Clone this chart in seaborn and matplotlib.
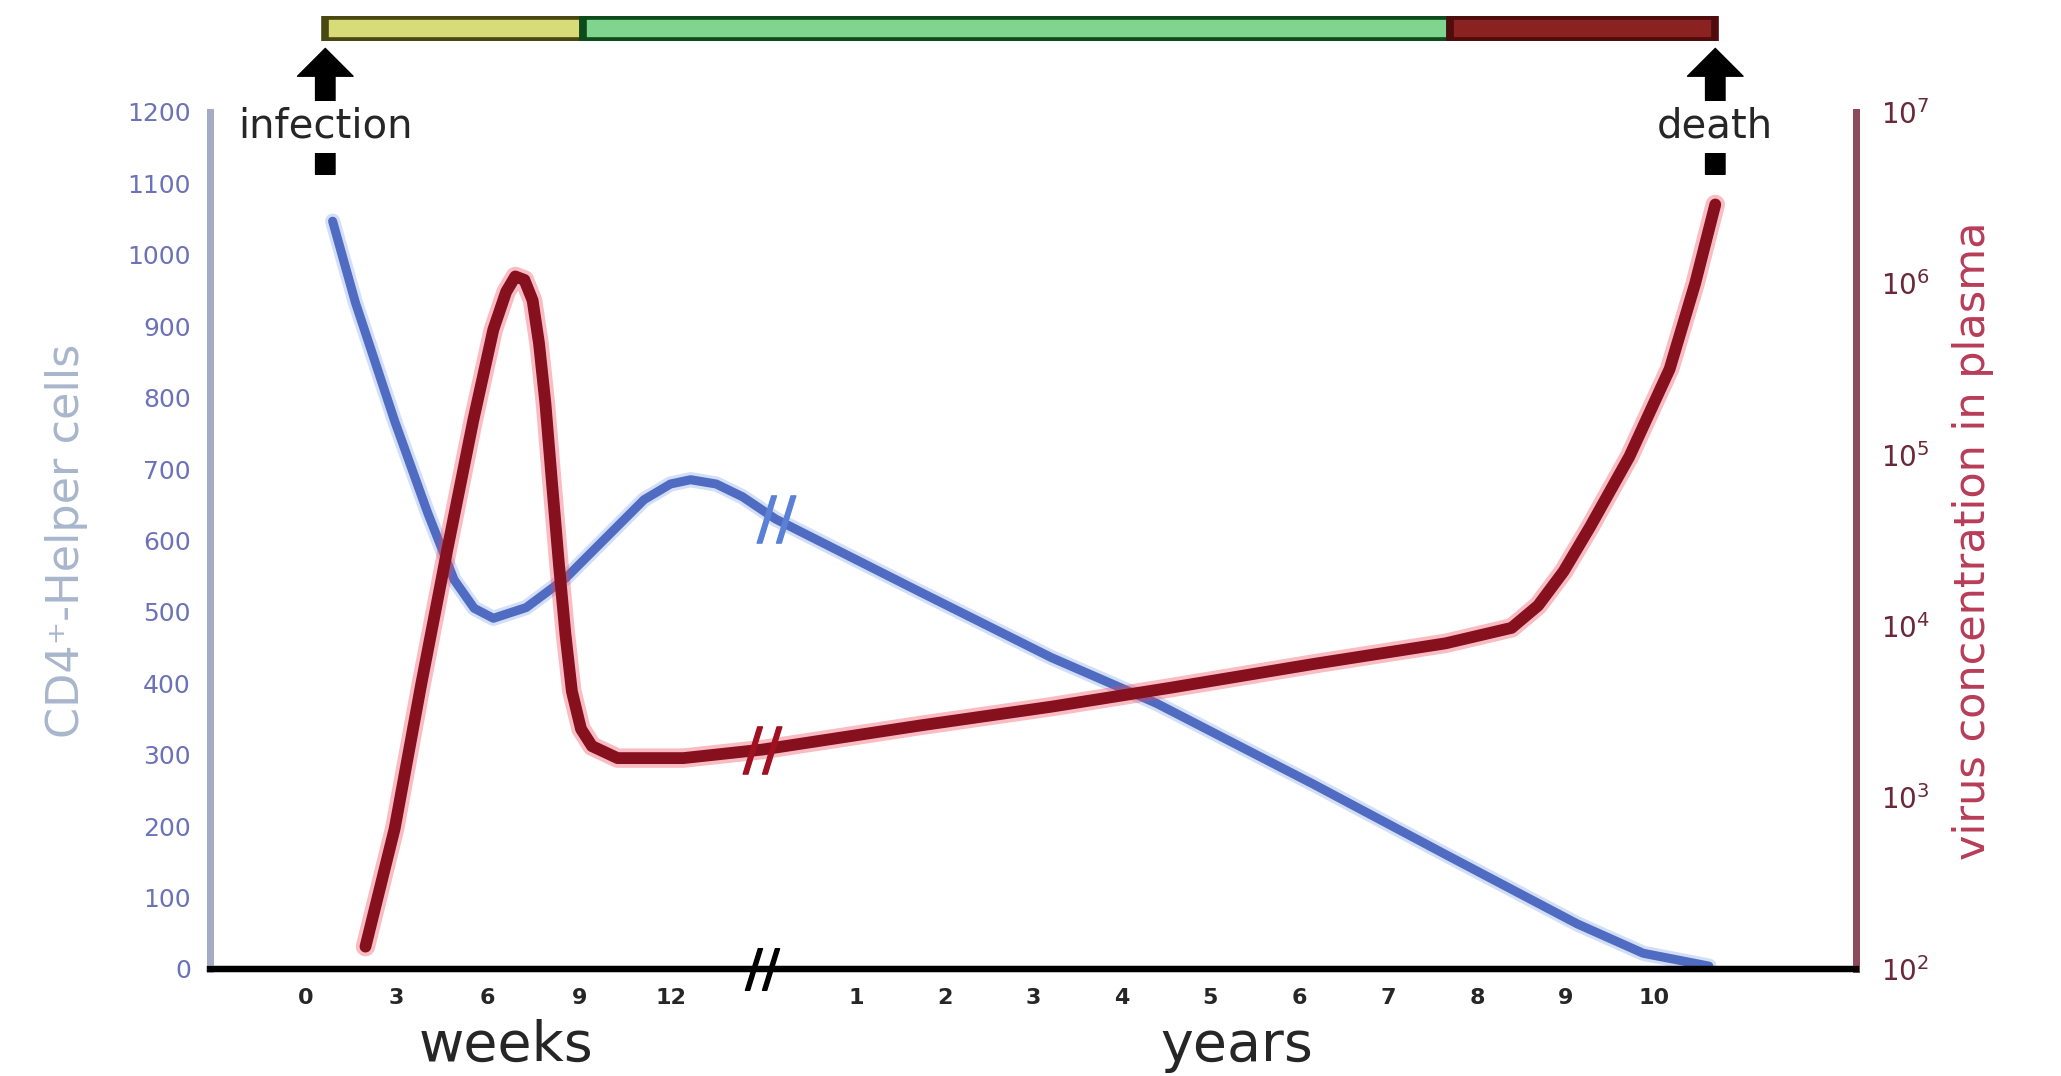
import numpy as np
import pandas as pd
import matplotlib.pyplot as plt
import matplotlib.transforms as mtransforms
import seaborn as sns

# Achsen-Positionen (Wochen links, Bruch, Jahre rechts)
week_labels = ['0', '3', '6', '9', '12']
week_pos = [0, 1, 2, 3, 4]
year_labels = ['1', '2', '3', '4', '5', '6', '7', '8', '9', '10']
year_pos = [6.03, 7.0, 7.97, 8.94, 9.91, 10.89, 11.86, 12.83, 13.8, 14.77]
break_pos = 5.0

# CD4-Helferzellen (linke Achse)
cd4_x = [0.30, 0.55, 0.98, 1.34, 1.63, 1.85, 2.06, 2.42, 2.85, 3.28, 3.71, 4.00, 4.22,
         4.50, 4.79, 5.15, 6.73, 8.17, 9.32, 11.05, 12.49, 13.93, 14.65, 15.37]
cd4_y = [1047, 933, 767, 639, 545, 505, 491, 506, 547, 602, 657, 679, 685,
         679, 661, 630, 528, 436, 372, 258, 160, 63, 22, 4]

# Viruskonzentration (rechte Achse, log)
virus_x = [0.66, 0.98, 1.27, 1.55, 1.84, 2.06, 2.20, 2.30, 2.40, 2.49, 2.56, 2.63, 2.70,
           2.78, 2.85, 2.92, 3.02, 3.14, 3.42, 4.14, 5.01, 6.73, 8.17, 9.47, 11.05,
           12.49, 13.21, 13.50, 13.78, 14.07, 14.50, 14.94, 15.22, 15.44]
virus_exp = [2.13, 2.82, 3.66, 4.43, 5.20, 5.73, 5.95, 6.04, 6.02, 5.90, 5.65, 5.30, 4.85,
             4.35, 3.95, 3.62, 3.40, 3.30, 3.23, 3.23, 3.28, 3.42, 3.53, 3.64, 3.78,
             3.90, 3.99, 4.12, 4.32, 4.58, 4.99, 5.50, 6.00, 6.46]

# Krankheitsphasen (Balken oben)
phase_start = [0.22, 3.04, 12.53]
phase_end = [3.04, 12.53, 15.44]
phase_fill = ['#d8dc78', '#7fd58e', '#8a2222']
phase_edge = ['#4a4812', '#0d4a1c', '#4e0c0c']

events = ['infection', 'death']
event_pos = [0.22, 15.44]

sns.set_style('white')
plt.rcParams['font.family'] = ['DejaVu Sans']

fig = plt.figure(figsize=(20.61, 10.76), dpi=100)
ax = fig.add_axes([0.102, 0.0995, 0.7985, 0.7965])
ax2 = ax.twinx()

cd4 = pd.DataFrame({'x': cd4_x, 'y': cd4_y})
virus = pd.DataFrame({'x': virus_x, 'y': [10 ** e for e in virus_exp]})

# Linien mit leichtem Schein
sns.lineplot(data=cd4, x='x', y='y', ax=ax, color='#9fb8ee', linewidth=11, alpha=0.45)
sns.lineplot(data=cd4, x='x', y='y', ax=ax, color='#4f6cc2', linewidth=6.5)
sns.lineplot(data=virus, x='x', y='y', ax=ax2, color='#f04050', linewidth=14, alpha=0.35)
sns.lineplot(data=virus, x='x', y='y', ax=ax2, color='#86101e', linewidth=8.5)

# Bruchmarken auf den Kurven
ax.plot([break_pos + 0.15], [np.interp(break_pos + 0.15, cd4_x, cd4_y)], marker='$//$',
        markersize=34, color='#5a80d8', zorder=5)
ax2.plot([break_pos], [10 ** np.interp(break_pos, virus_x, virus_exp)], marker='$//$',
         markersize=34, color='#a01020', zorder=5)

ax.set_xlim(-1.04, 16.98)
ax.set_ylim(0, 1200)
ax2.set_yscale('log')
ax2.set_ylim(1e2, 1e7)

ax.set_yticks(range(0, 1201, 100))
ax.set_yticklabels([str(v) for v in range(0, 1201, 100)], fontsize=18, color='#6c72b8')
ax2.set_yticks([10 ** k for k in range(2, 8)])
ax2.set_yticklabels([f'$10^{{{k}}}$' for k in range(2, 8)], fontsize=20, color='#6a2838')
ax2.minorticks_off()
ax.set_xticks(week_pos + year_pos)
ax.set_xticklabels(week_labels + year_labels, fontsize=16, fontweight='bold')
ax.tick_params(axis='both', length=0, pad=14)
ax2.tick_params(axis='y', length=0, pad=18)
ax.set_xlabel('')
ax.set_ylabel('CD4⁺-Helper cells', fontsize=32, color='#a8b6cc', labelpad=28)
ax2.set_ylabel('virus concentration in plasma', fontsize=31, color='#b83c58', labelpad=16)

for a in (ax, ax2):
    a.spines['top'].set_visible(False)
    a.spines['left'].set_color('#a4acc4')
    a.spines['left'].set_linewidth(5)
    a.spines['right'].set_color('#8c4a5c')
    a.spines['right'].set_linewidth(5)
    a.spines['bottom'].set_color('black')
    a.spines['bottom'].set_linewidth(4.5)

# Bruch auf der x-Achse
ax.plot([break_pos], [0], marker='$//$', markersize=30, color='black', clip_on=False, zorder=6)

trans = mtransforms.blended_transform_factory(ax.transData, fig.transFigure)
ax.text(2.2, 0.028, 'weeks', transform=trans, ha='center', va='center', fontsize=40)
ax.text(10.2, 0.028, 'years', transform=trans, ha='center', va='center', fontsize=40)

# Phasenbalken oben
ax_top = fig.add_axes([0.102, 0.962, 0.7985, 0.023], sharex=ax)
ax_top.barh([0] * 3, [e - s for s, e in zip(phase_start, phase_end)], left=phase_start,
            height=1.0, color=phase_fill, edgecolor=phase_edge, linewidth=5.5)
ax_top.set_ylim(-0.5, 0.5)
ax_top.axis('off')

# Pfeile Infektion / Tod
for name, pos in zip(events, event_pos):
    ax.annotate('', xy=(pos, 0.955), xycoords=('data', 'figure fraction'),
                xytext=(pos, 0.838), textcoords=('data', 'figure fraction'),
                arrowprops=dict(arrowstyle='simple,head_length=1.0,head_width=2.0,tail_width=0.7',
                                color='black', mutation_scale=20, shrinkA=0, shrinkB=0),
                annotation_clip=False)
    ax.text(pos, 0.882, name, transform=trans, ha='center', va='center', fontsize=29,
            bbox=dict(boxstyle='square,pad=0.15', facecolor='white', edgecolor='none'))

fig.savefig('out.png', dpi=100)
